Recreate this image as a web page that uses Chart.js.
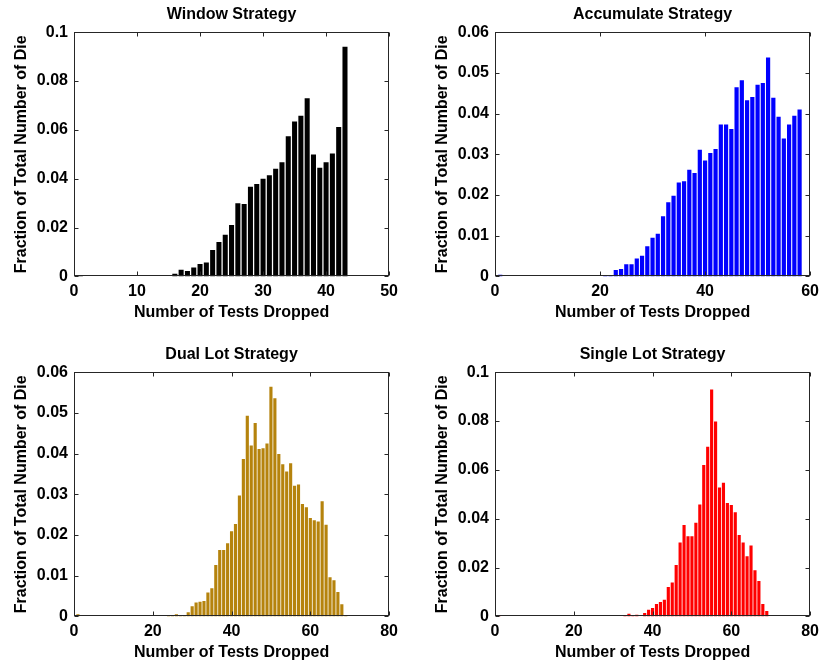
<!DOCTYPE html>
<html>
<head>
<meta charset="utf-8">
<title>Tests Dropped per Strategy</title>
<script src="https://cdn.jsdelivr.net/npm/chart.js@4.4.1/dist/chart.umd.min.js"></script>
<style>
  body { margin: 0; background: #fff; }
  #figure { position: relative; width: 825px; height: 667px; overflow: hidden; }
  #figure canvas { position: absolute; }
</style>
</head>
<body>
<div id="figure">
  <canvas id="chart-window" width="404" height="322" style="left:0;top:0"></canvas>
  <canvas id="chart-accumulate" width="404" height="322" style="left:421px;top:0"></canvas>
  <canvas id="chart-dual" width="404" height="322" style="left:0;top:340px"></canvas>
  <canvas id="chart-single" width="404" height="322" style="left:421px;top:340px"></canvas>
</div>
<script>
// histogram bins (number of tests dropped) and fraction of die
const windowBins = [1, 16, 17, 18, 19, 20, 21, 22, 23, 24, 25, 26, 27, 28, 29, 30,
  31, 32, 33, 34, 35, 36, 37, 38, 39, 40, 41, 42, 43];
const windowFrac = [0.0004, 0.0011, 0.0027, 0.0022, 0.0036, 0.0051, 0.0057, 0.0108,
  0.0141, 0.0171, 0.021, 0.030, 0.0296, 0.0367, 0.0378, 0.040, 0.0414, 0.0441,
  0.0467, 0.0574, 0.0634, 0.0658, 0.073, 0.0499, 0.0445, 0.0467, 0.0503, 0.0612, 0.094];

const accumBins = [1, 21, 22, 23, 24, 25, 26, 27, 28, 29, 30, 31, 32, 33, 34, 35, 36,
  37, 38, 39, 40, 41, 42, 43, 44, 45, 46, 47, 48, 49, 50, 51, 52, 53, 54, 55, 56, 57, 58];
const accumFrac = [0.0004, 0.0003, 0.0003, 0.0016, 0.0018, 0.003, 0.003, 0.0044,
  0.0051, 0.0074, 0.0095, 0.0105, 0.0148, 0.0182, 0.0198, 0.0231, 0.0234, 0.0262,
  0.0254, 0.0311, 0.0285, 0.0303, 0.0313, 0.0373, 0.0373, 0.0362, 0.0465, 0.0482,
  0.0433, 0.0441, 0.0471, 0.0475, 0.0538, 0.0439, 0.0392, 0.0339, 0.0373, 0.0395, 0.041];

const dualBins = [1, 24, 25, 26, 27, 28, 29, 30, 31, 32, 33, 34, 35, 36, 37, 38, 39,
  40, 41, 42, 43, 44, 45, 46, 47, 48, 49, 50, 51, 52, 53, 54, 55, 56, 57, 58, 59, 60,
  61, 62, 63, 64, 65, 66, 67, 68, 69];
const dualFrac = [0.0005, 0.0002, 0.0003, 0.0005, 0.0003, 0.0003, 0.001, 0.0025,
  0.0034, 0.0036, 0.0038, 0.0059, 0.0069, 0.0126, 0.0163, 0.0163, 0.018, 0.0209,
  0.0227, 0.0297, 0.0387, 0.0493, 0.042, 0.0475, 0.0411, 0.0413, 0.0425, 0.0564,
  0.0536, 0.0399, 0.0374, 0.0356, 0.0376, 0.0321, 0.0324, 0.0276, 0.0268, 0.0242,
  0.0236, 0.0233, 0.0283, 0.0225, 0.0096, 0.0089, 0.006, 0.003, 0.0002];

const singleBins = [1, 33, 34, 35, 36, 38, 39, 40, 41, 42, 43, 44, 45, 46, 47, 48, 49,
  50, 51, 52, 53, 54, 55, 56, 57, 58, 59, 60, 61, 62, 63, 64, 65, 66, 67, 68, 69];
const singleFrac = [0.0003, 0.0004, 0.0011, 0.0005, 0.0007, 0.0014, 0.0027, 0.0034,
  0.0051, 0.0059, 0.0068, 0.012, 0.0139, 0.021, 0.0303, 0.0374, 0.0328, 0.0328,
  0.0383, 0.0458, 0.062, 0.0695, 0.0929, 0.0798, 0.0528, 0.0547, 0.0464, 0.0456,
  0.0426, 0.0333, 0.0303, 0.0246, 0.029, 0.0189, 0.0145, 0.0051, 0.0022];

// axis ticks
const xTicks50 = [0, 10, 20, 30, 40, 50];
const xTicks60 = [0, 20, 40, 60];
const xTicks80 = [0, 20, 40, 60, 80];
const yTicksTenth = [0, 0.02, 0.04, 0.06, 0.08, 0.1];
const yTicksSixHundredths = [0, 0.01, 0.02, 0.03, 0.04, 0.05, 0.06];

const X_TITLE = "Number of Tests Dropped";
const Y_TITLE = "Fraction of Total Number of Die";

(() => {
  const FONT = { family: "'Liberation Sans', Arial, sans-serif", size: 16, weight: "bold" };
  const FRAME_COLOR = "#262626";
  const TICK_LEN = 4;

  // MATLAB prints 0.1, not 0.10
  function formatTick(value) {
    return String(Number(value.toFixed(4)));
  }

  // MATLAB style box with inward ticks on all four sides
  const framePlugin = {
    id: "frame",
    afterDatasetsDraw(chart) {
      const { ctx, chartArea: a, scales } = chart;
      const left = Math.round(a.left) + 0.5;
      const right = Math.round(a.right) - 0.5;
      const top = Math.round(a.top) + 0.5;
      const bottom = Math.round(a.bottom) - 0.5;

      ctx.save();
      ctx.strokeStyle = FRAME_COLOR;
      ctx.lineWidth = 1;
      ctx.strokeRect(left, top, right - left, bottom - top);

      ctx.beginPath();
      scales.x.ticks.forEach((t) => {
        const px = Math.round(scales.x.getPixelForValue(t.value)) + 0.5;
        ctx.moveTo(px, bottom);
        ctx.lineTo(px, bottom - TICK_LEN);
        ctx.moveTo(px, top);
        ctx.lineTo(px, top + TICK_LEN);
      });
      scales.y.ticks.forEach((t) => {
        const py = Math.round(scales.y.getPixelForValue(t.value)) + 0.5;
        ctx.moveTo(left, py);
        ctx.lineTo(left + TICK_LEN, py);
        ctx.moveTo(right, py);
        ctx.lineTo(right - TICK_LEN, py);
      });
      ctx.stroke();
      ctx.restore();
    },
  };

  function renderHistogram(id, title, bins, fracs, color, xTicks, yTicks, padRight) {
    const canvas = document.getElementById(id);
    if (!canvas) return null;

    const points = bins.map((b, i) => ({ x: b, y: fracs[i] }));

    return new Chart(canvas.getContext("2d"), {
      type: "bar",
      data: {
        datasets: [
          {
            data: points,
            backgroundColor: color,
            borderWidth: 0,
            categoryPercentage: 1,
            barPercentage: 0.8,
          },
        ],
      },
      options: {
        responsive: false,
        animation: false,
        layout: { padding: { left: 0, right: padRight, top: 0, bottom: 0 } },
        plugins: {
          legend: { display: false },
          tooltip: { enabled: false },
          title: {
            display: true,
            fullSize: false,
            text: title,
            color: "#000",
            font: FONT,
            padding: { top: 5, bottom: 8 },
          },
        },
        scales: {
          x: {
            type: "linear",
            offset: false,
            min: xTicks[0],
            max: xTicks[xTicks.length - 1],
            grid: { display: false, drawTicks: false },
            border: { display: false },
            ticks: { color: "#000", font: FONT, padding: 6, maxRotation: 0, callback: formatTick },
            title: {
              display: true,
              text: X_TITLE,
              color: "#000",
              font: FONT,
              padding: { top: 0, bottom: 0 },
            },
            afterBuildTicks: (scale) => {
              scale.ticks = xTicks.map((v) => ({ value: v }));
            },
            afterFit: (scale) => {
              scale.height = 45.6;
            },
          },
          y: {
            type: "linear",
            min: yTicks[0],
            max: yTicks[yTicks.length - 1],
            grid: { display: false, drawTicks: false },
            border: { display: false },
            ticks: { color: "#000", font: FONT, padding: 6, callback: formatTick },
            title: {
              display: true,
              text: Y_TITLE,
              color: "#000",
              font: FONT,
              padding: { top: 12.4, bottom: 0 },
            },
            afterBuildTicks: (scale) => {
              scale.ticks = yTicks.map((v) => ({ value: v }));
            },
            afterFit: (scale) => {
              scale.width = 74;
            },
          },
        },
      },
      plugins: [framePlugin],
    });
  }

  renderHistogram("chart-window", "Window Strategy", windowBins, windowFrac,
    "#000000", xTicks50, yTicksTenth, 10);
  renderHistogram("chart-accumulate", "Accumulate Strategy", accumBins, accumFrac,
    "#0000ff", xTicks60, yTicksSixHundredths, 12);
  renderHistogram("chart-dual", "Dual Lot Strategy", dualBins, dualFrac,
    "#b5830d", xTicks80, yTicksSixHundredths, 11);
  renderHistogram("chart-single", "Single Lot Strategy", singleBins, singleFrac,
    "#ff0000", xTicks80, yTicksTenth, 11);
})();
</script>
</body>
</html>
